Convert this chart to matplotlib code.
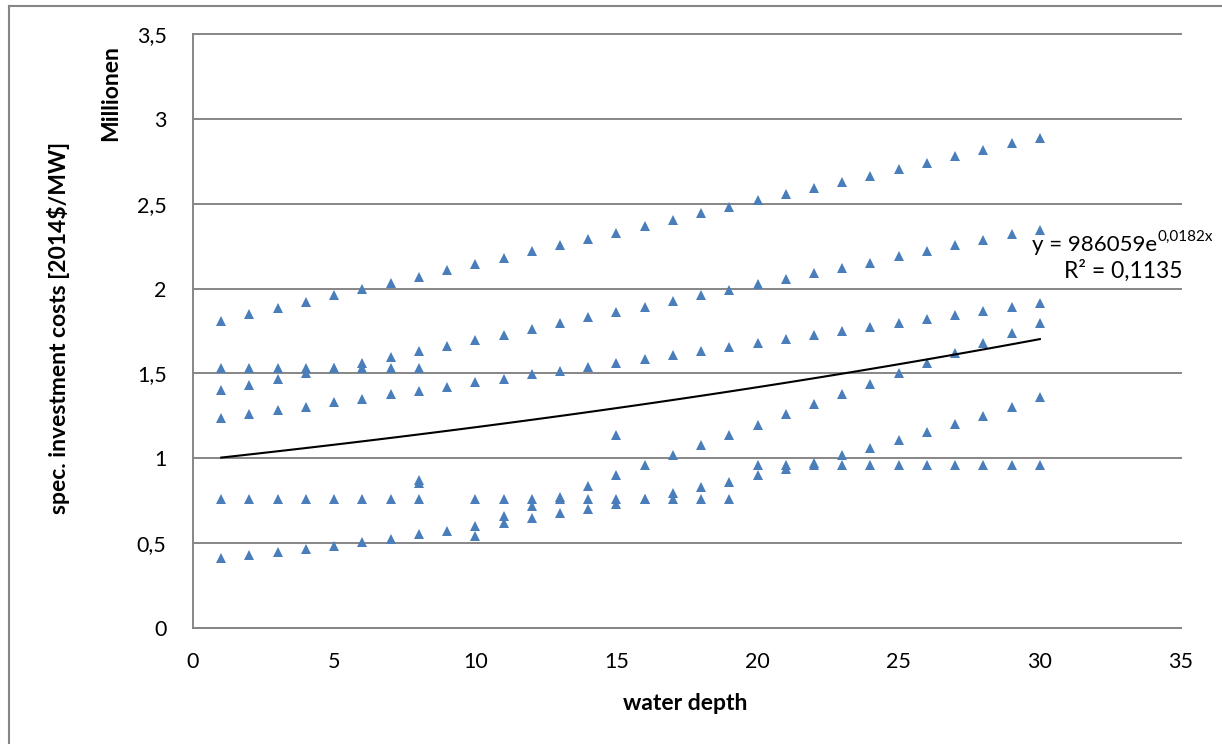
import numpy as np
import matplotlib
matplotlib.use('Agg')
import matplotlib.pyplot as plt
from matplotlib.lines import Line2D

nan = float('nan')

# ---- data (values in millions of 2014$/MW) ----
depth = list(range(1, 31))

series_a = [1.81, 1.85, 1.885, 1.92, 1.96, 2.0, 2.035, 2.07, 2.11, 2.145,
            2.18, 2.22, 2.255, 2.295, 2.33, 2.37, 2.405, 2.445, 2.48, 2.52,
            2.555, 2.595, 2.63, 2.665, 2.705, 2.74, 2.78, 2.815, 2.855, 2.89]
series_b = [1.534, 1.534, 1.534, 1.534, 1.534, 1.534, 1.534, 1.534, nan, nan,
            nan, nan, nan, nan, nan, nan, nan, nan, nan, nan,
            nan, nan, nan, nan, nan, nan, nan, nan, nan, nan]
series_c = [1.40, 1.434, 1.467, 1.50, 1.534, 1.563, 1.597, 1.63, 1.662, 1.695,
            1.727, 1.76, 1.795, 1.83, 1.86, 1.89, 1.925, 1.96, 1.99, 2.025,
            2.055, 2.09, 2.12, 2.151, 2.19, 2.22, 2.255, 2.285, 2.32, 2.345]
series_d = [1.236, 1.261, 1.283, 1.304, 1.33, 1.351, 1.377, 1.398, 1.422, 1.448,
            1.467, 1.497, 1.517, 1.54, 1.563, 1.585, 1.609, 1.632, 1.656, 1.678,
            1.703, 1.727, 1.75, 1.772, 1.795, 1.819, 1.843, 1.866, 1.89, 1.913]
series_e = [0.76, 0.76, 0.76, 0.76, 0.76, 0.76, 0.76, 0.76, nan, 0.76,
            0.76, 0.76, 0.76, 0.76, 0.76, 0.76, 0.76, 0.76, 0.76, 0.958,
            0.958, 0.958, 0.958, 0.958, 0.958, 0.958, 0.958, 0.958, 0.958, 0.958]
series_f = [0.412, 0.428, 0.45, 0.467, 0.485, 0.505, 0.526, 0.552, 0.573, 0.599,
            0.619, 0.648, 0.676, 0.703, 0.731, 0.76, 0.797, 0.829, 0.862, 0.90,
            0.937, 0.974, 1.018, 1.062, 1.108, 1.153, 1.202, 1.251, 1.304, 1.359]
series_g = [nan, nan, nan, nan, nan, nan, nan, nan, nan, 0.54,
            0.66, 0.717, 0.772, 0.839, 0.90, 0.959, 1.018, 1.078, 1.137, 1.198,
            1.259, 1.318, 1.379, 1.44, 1.50, 1.56, 1.619, 1.678, 1.74, 1.797]
extra_x = [8, 8, 15]
extra_y = [0.872, 0.853, 1.137]

trend_coef = 986059
trend_exp = 0.0182
trend_r2 = "0,1135"

x_ticks = [0, 5, 10, 15, 20, 25, 30, 35]
y_ticks = [0, 0.5, 1, 1.5, 2, 2.5, 3, 3.5]
y_tick_labels = ["0", "0,5", "1", "1,5", "2", "2,5", "3", "3,5"]

# ---- figure ----
W, H = 1222, 744
fig = plt.figure(figsize=(W / 100, H / 100), dpi=100)
plt.rcParams['font.family'] = ['Lato', 'DejaVu Sans']

def fx(px):
    return px / W

def fy(py):
    return 1 - py / H

grey = '#868686'
blue = '#4A7EBB'

# chart-area border (only left/top visible)
fig.add_artist(Line2D([fx(9), fx(9)], [fy(6), 0], color=grey, lw=1.5))
fig.add_artist(Line2D([fx(9), 1], [fy(6), fy(6)], color=grey, lw=1.5))

ax = fig.add_axes([fx(193), fy(628), fx(1181) - fx(193), fy(34) - fy(628)])

for s in [series_a, series_b, series_c, series_d, series_e, series_f, series_g]:
    ax.plot(depth, s, linestyle='none', marker='^', markersize=6.6,
            color=blue, markeredgewidth=0, zorder=3)
ax.plot(extra_x, extra_y, linestyle='none', marker='^', markersize=6.6,
        color=blue, markeredgewidth=0, zorder=3)

tx = np.linspace(1, 30, 100)
ty = trend_coef * np.exp(trend_exp * tx) / 1e6
ax.plot(tx, ty, color='black', lw=1.5, zorder=4)

ax.set_xlim(0, 35)
ax.set_ylim(0, 3.5)
ax.set_xticks(x_ticks)
ax.set_xticklabels([str(v) for v in x_ticks])
ax.set_yticks(y_ticks)
ax.set_yticklabels(y_tick_labels)
ax.tick_params(axis='both', length=0, labelsize=15.5, colors='black')
ax.tick_params(axis='y', pad=19)
ax.tick_params(axis='x', pad=17)
ax.grid(axis='y', color=grey, lw=1.4, clip_on=False)
ax.set_axisbelow(True)
for side in ['top', 'right']:
    ax.spines[side].set_visible(False)
for side in ['left', 'bottom']:
    ax.spines[side].set_color(grey)
    ax.spines[side].set_linewidth(1.4)

# axis titles
fig.text(fx(685), fy(703), 'water depth', ha='center', va='center',
         fontsize=16.5, fontweight='bold')
fig.text(fx(59), fy(328), 'spec. investment costs [2014$/MW]', rotation=90,
         ha='center', va='center', fontsize=16.5, fontweight='bold')
fig.text(fx(111), fy(93), 'Millionen', rotation=90, ha='center', va='center',
         fontsize=16.5, fontweight='bold')

# trendline equation
base = fig.text(fx(1032), fy(245), 'y = %de' % trend_coef, ha='left',
                va='center', fontsize=16)
fig.canvas.draw()
bb = base.get_window_extent(renderer=fig.canvas.get_renderer())
fig.text(bb.x1 / W + 0.0005, fy(237), '0,0182x', ha='left', va='center',
         fontsize=11)
fig.text(fx(1183), fy(271), 'R² = ' + trend_r2, ha='right', va='center',
         fontsize=16.5)

fig.savefig('out.png', dpi=100)
